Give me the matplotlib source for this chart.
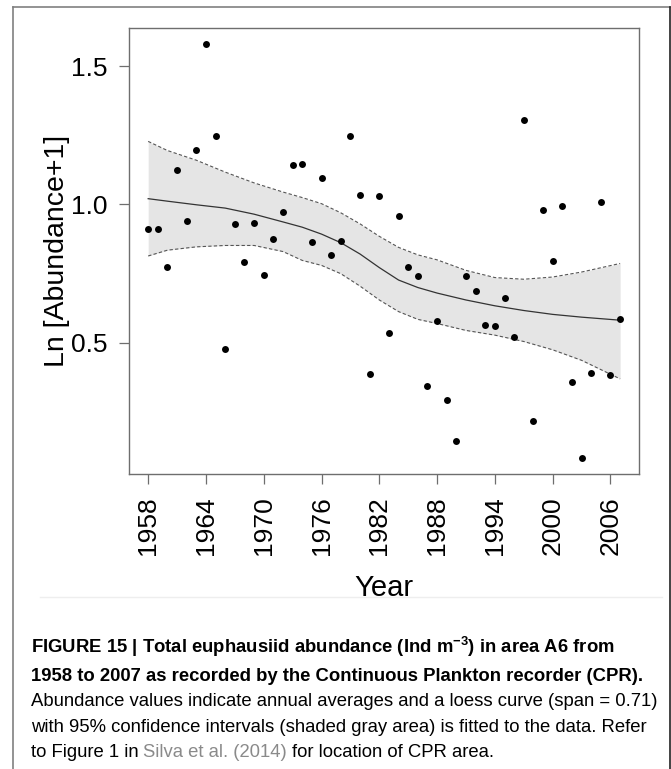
import numpy as np
import matplotlib
matplotlib.use("Agg")
import matplotlib.pyplot as plt
from matplotlib import font_manager
from matplotlib.lines import Line2D

# data
years = list(range(1958, 2008))
abund = [0.911, 0.911, 0.774, 1.123, 0.942, 1.196, 1.579, 1.249, 0.478, 0.928,
         0.792, 0.934, 0.745, 0.874, 0.973, 1.144, 1.146, 0.865, 1.094, 0.816,
         0.868, 1.249, 1.034, 0.388, 1.029, 0.535, 0.958, 0.774, 0.743, 0.346,
         0.580, 0.293, 0.147, 0.740, 0.687, 0.564, 0.561, 0.661, 0.522, 1.304,
         0.218, 0.979, 0.795, 0.994, 0.359, 0.085, 0.393, 1.008, 0.384, 0.588]

# loess curve and 95% band
curve_years = [1958, 1960, 1963, 1966, 1969, 1972, 1974, 1976, 1978, 1980,
               1982, 1984, 1986, 1988, 1991, 1994, 1997, 2000, 2003, 2007]
fit = [1.021, 1.012, 0.999, 0.987, 0.965, 0.937, 0.918, 0.893, 0.862, 0.821,
       0.772, 0.727, 0.700, 0.680, 0.655, 0.634, 0.617, 0.603, 0.593, 0.582]
upper = [1.228, 1.195, 1.160, 1.117, 1.078, 1.045, 1.025, 1.003, 0.970, 0.930,
         0.885, 0.845, 0.818, 0.800, 0.762, 0.736, 0.730, 0.738, 0.756, 0.787]
lower = [0.814, 0.835, 0.847, 0.852, 0.852, 0.830, 0.798, 0.780, 0.750, 0.705,
         0.655, 0.613, 0.585, 0.570, 0.545, 0.528, 0.505, 0.475, 0.437, 0.370]

xticks = list(range(1958, 2007, 6))
yticks = [0.5, 1.0, 1.5]

caption_bold = ["FIGURE 15 | Total euphausiid abundance (Ind m$^{\\mathbf{-3}}$) in area A6 from",
                "1958 to 2007 as recorded by the Continuous Plankton recorder (CPR)."]
caption_reg = ["Abundance values indicate annual averages and a loess curve (span = 0.71)",
               "with 95% confidence intervals (shaded gray area) is fitted to the data. Refer"]
caption_last = [("to Figure 1 in", "black"), ("Silva et al. (2014)", "#8a8a8a"),
                ("for location of CPR area.", "black")]

W, H = 671, 769
plt.rcParams["font.family"] = ["Liberation Sans", "DejaVu Sans"]
plt.rcParams["mathtext.fontset"] = "custom"
plt.rcParams["mathtext.rm"] = "Liberation Sans"
plt.rcParams["mathtext.bf"] = "Liberation Sans:bold"

cap_font = "Liberation Sans"
try:
    font_manager.findfont("Liberation Sans Narrow", fallback_to_default=False)
    cap_font = "Liberation Sans Narrow"
except Exception:
    pass

fig = plt.figure(figsize=(W / 100, H / 100), dpi=100)

def fx(px):
    return px / W

def fy(py):
    return 1 - py / H

ax = fig.add_axes([fx(129.3), fy(474.3), fx(639) - fx(129.3), fy(27.7) - fy(474.3)])

axis_col = "#6e6e6e"
ax.fill_between(curve_years, lower, upper, color="#e5e5e5", lw=0, zorder=1)
ax.plot(curve_years, upper, color="#555555", lw=0.8, ls=(0, (3, 2)), zorder=2)
ax.plot(curve_years, lower, color="#555555", lw=0.8, ls=(0, (3, 2)), zorder=2)
ax.plot(curve_years, fit, color="#333333", lw=0.9, zorder=2)
ax.plot(years, abund, "o", color="black", ms=5.0, mec="none", zorder=3)

# R style 4% padding
xr = years[-1] - years[0]
ax.set_xlim(years[0] - 0.04 * xr, years[-1] + 0.04 * xr)
yr = max(abund) - min(abund)
ax.set_ylim(min(abund) - 0.04 * yr, max(abund) + 0.04 * yr)

ax.set_xticks(xticks)
ax.set_xticklabels([str(v) for v in xticks], rotation=90)
ax.set_yticks(yticks)
ax.set_yticklabels(["0.5", "1.0", "1.5"])
ax.tick_params(axis="both", length=7, width=0.9, color=axis_col, labelsize=19)
ax.tick_params(axis="x", pad=9)
ax.tick_params(axis="y", pad=8.5)
for sp in ax.spines.values():
    sp.set_color(axis_col)
    sp.set_linewidth(1.0)

fig.text(fx(384), fy(587.5), "Year", fontsize=21, ha="center", va="center")
fig.text(fx(57), fy(251), "Ln [Abundance+1]", fontsize=20.5, rotation=90,
         ha="center", va="center")

# outer frame and separator
fig.add_artist(Line2D([fx(12.7), fx(12.7)], [fy(7.3), 0], color="#808080", lw=1.2))
fig.add_artist(Line2D([fx(12.7), fx(670)], [fy(7.3), fy(7.3)], color="#808080", lw=1.2))
fig.add_artist(Line2D([fx(670), fx(670)], [fy(7.3), 0], color="#222222", lw=1.2))
fig.add_artist(Line2D([fx(40), fx(662)], [fy(597), fy(597)], color="#eeeeee", lw=1.0))

# caption, sized so each line spans the same width as in the original
fig.canvas.draw()
rend = fig.canvas.get_renderer()

def fit_text(x, y, s, target_w, **kw):
    t = fig.text(fx(x), fy(y), s, fontsize=12, family=[cap_font, "DejaVu Sans"],
                 va="baseline", **kw)
    w = t.get_window_extent(renderer=rend).width
    t.set_fontsize(12 * target_w / w)
    return t

t1 = fit_text(30.7, 680.7, caption_bold[1], 608.6, weight="bold")
bold_size = t1.get_fontsize()
fig.text(fx(30.7), fy(653.3), caption_bold[0], fontsize=bold_size,
         weight="bold", family=[cap_font, "DejaVu Sans"], va="baseline")

t2 = fit_text(30.7, 705.7, caption_reg[0], 629.3)
reg_size = t2.get_fontsize()
fig.text(fx(30.7), fy(731.7), caption_reg[1], fontsize=reg_size,
         family=[cap_font, "DejaVu Sans"], va="baseline")

def width_of(s):
    t = fig.text(0, 0, s, fontsize=reg_size, family=[cap_font, "DejaVu Sans"])
    w = t.get_window_extent(renderer=rend).width
    t.remove()
    return w

space_w = width_of("a a") - width_of("aa")
xpos = 30.7
for s, col in caption_last:
    t = fig.text(fx(xpos), fy(756.7), s, fontsize=reg_size, color=col,
                 family=[cap_font, "DejaVu Sans"], va="baseline")
    xpos += t.get_window_extent(renderer=rend).width + space_w

fig.savefig("out.png", dpi=100)
